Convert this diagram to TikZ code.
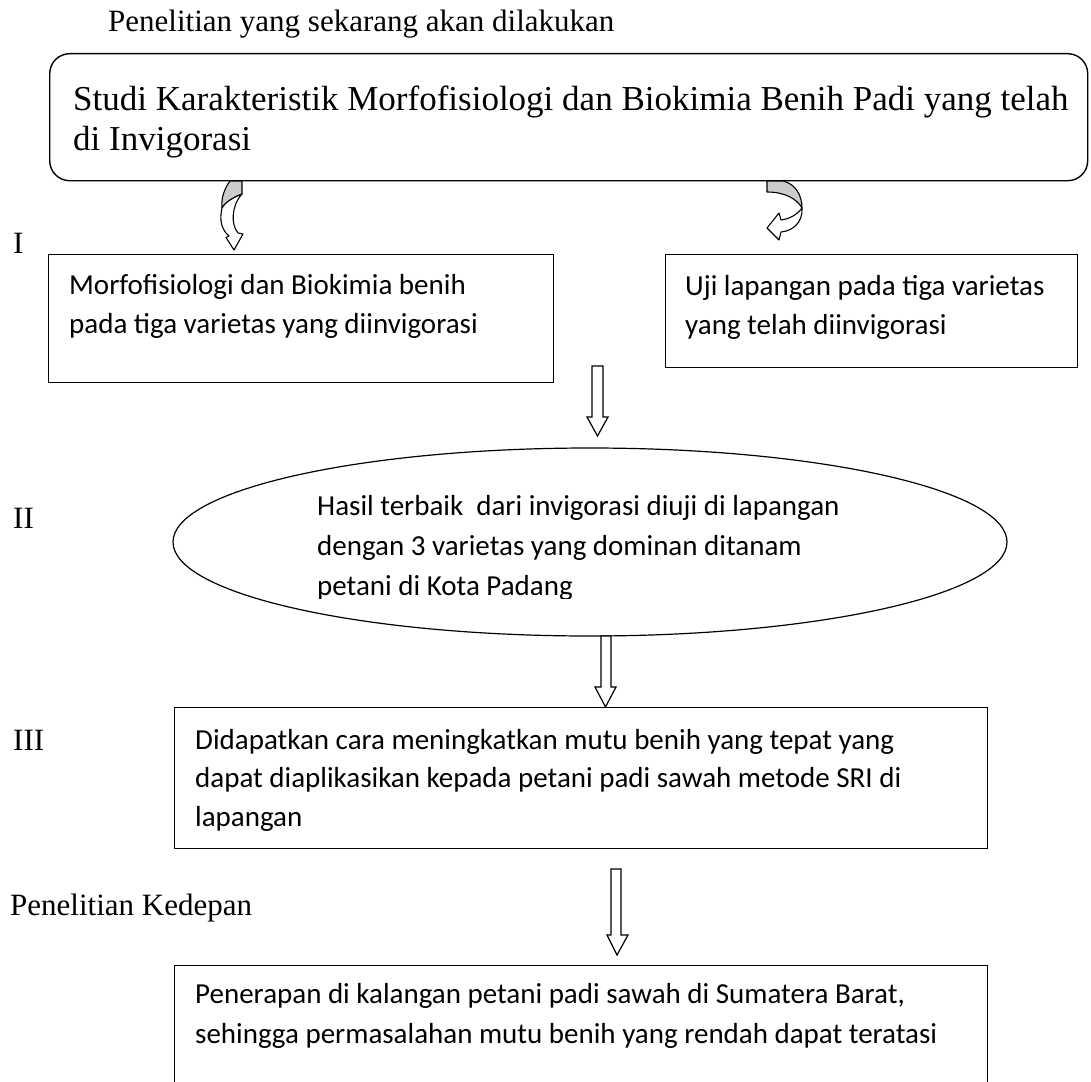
\documentclass[tikz,border=0pt]{standalone}
\usepackage{fontspec}
\setmainfont{Liberation Serif}
\newfontfamily\calfont{Carlito}
\usetikzlibrary{shapes.geometric}
\definecolor{foldgrey}{HTML}{CCCCCC}
\begin{document}
\begin{tikzpicture}[x=1pt,y=-1pt,
  boxstyle/.style={draw=black, line width=1.4pt, rectangle, inner sep=0pt, anchor=north west},
  lab/.style={inner sep=0pt, anchor=base west, font=\fontsize{31}{31}\selectfont},
  ttl/.style={inner sep=0pt, anchor=base west, font=\fontsize{35}{35}\selectfont},
  bodytxt/.style={inner sep=0pt, anchor=base west, font=\calfont\fontsize{29}{29}\selectfont},
  blk/.style={draw=black, fill=white, line width=1.2pt, line join=miter},
  curl/.style={draw=black, line width=1.1pt, line join=round}]
\clip (0,0) rectangle (1091,1081);
\fill[white] (0,0) rectangle (1091,1081);

% heading
\node[lab] (head) at (108,32) {Penelitian yang sekarang akan dilakukan};

% title box
\node[boxstyle, rounded corners=20pt, minimum width=1038pt, minimum height=127pt] (tb) at (49,53) {};
\node[ttl] (tl1) at (73,110) {Studi Karakteristik Morfofisiologi dan Biokimia Benih Padi yang telah};
\node[ttl] (tl2) at (73,150) {di Invigorasi};

% roman labels
\node[lab] (r1) at (13,253) {I};
\node[lab] (r2) at (13,528) {II};
\node[lab] (r3) at (13,750) {III};
\node[lab] (fut) at (10,915) {Penelitian Kedepan};

% box 1
\node[boxstyle, minimum width=505pt, minimum height=128pt] (b1) at (48,254) {};
\node[bodytxt] (b1l1) at (69,294) {Morfofisiologi dan Biokimia benih};
\node[bodytxt] (b1l2) at (69,333) {pada tiga varietas yang diinvigorasi};

% box 2
\node[boxstyle, minimum width=412pt, minimum height=113pt] (b2) at (665,254) {};
\node[bodytxt] (b2l1) at (685,295) {Uji lapangan pada tiga varietas};
\node[bodytxt] (b2l2) at (685,334) {yang telah diinvigorasi};

% curved arrows (left)
\path[curl, fill=foldgrey] (230,181) -- (242,181) -- (242,194)
   .. controls (235,197) and (226,201) .. (222,208)
   .. controls (221,199) and (224,189) .. (230,181) -- cycle;
\path[curl, fill=white] (222,208) .. controls (219,221) and (222,230) .. (229,236)
   -- (226,237.5) -- (234,250) -- (243,234) -- (238,233)
   .. controls (231,225) and (231,206) .. (242,194)
   .. controls (235,197) and (226,201) .. (222,208) -- cycle;

% curved arrow (right)
\path[curl, fill=foldgrey] (767,181) -- (783,181) .. controls (796,184) and (802,196) .. (802,208)
   .. controls (797,199) and (785,192) .. (767,192) -- cycle;
\path[curl, fill=white] (802,208) .. controls (803,222) and (793,231) .. (781,232)
   -- (779,240) -- (767,228) -- (779,213) -- (781,220)
   .. controls (789,219) and (797,215) .. (802,208) -- cycle;

% block arrow A
\draw[blk] (592,366) -- (603,366) -- (603,417) -- (608,417) -- (597.5,436) -- (587,417) -- (592,417) -- cycle;

% ellipse
\node[draw=black, line width=1.2pt, ellipse, inner sep=0pt, minimum width=834pt, minimum height=188pt] (ell) at (590,542) {};
\begin{scope}
\clip (180,440) rectangle (1000,598);
\node[bodytxt] (el1) at (317,515) {Hasil terbaik\ \ dari invigorasi diuji di lapangan};
\node[bodytxt] (el2) at (317,555) {dengan 3 varietas yang dominan ditanam};
\node[bodytxt] (el3) at (317,595) {petani di Kota Padang};
\end{scope}

% block arrow B
\draw[blk] (601,636) -- (611,636) -- (611,687) -- (616,687) -- (605.5,707) -- (595,687) -- (601,687) -- cycle;

% box III
\node[boxstyle, minimum width=813pt, minimum height=141pt] (b3) at (174,707) {};
\node[bodytxt] (b3l1) at (195,749) {Didapatkan cara meningkatkan mutu benih yang tepat yang};
\node[bodytxt] (b3l2) at (195,787) {dapat diaplikasikan kepada petani padi sawah metode SRI di};
\node[bodytxt] (b3l3) at (195,826) {lapangan};

% block arrow C
\draw[blk] (611,869) -- (621,869) -- (621,935) -- (628,935) -- (617,955) -- (607,935) -- (611,935) -- cycle;

% box IV (runs off the bottom)
\node[boxstyle, minimum width=813pt, minimum height=160pt] (b4) at (174,965) {};
\node[bodytxt] (b4l1) at (195,1003) {Penerapan di kalangan petani padi sawah di Sumatera Barat,};
\node[bodytxt] (b4l2) at (195,1043) {sehingga permasalahan mutu benih yang rendah dapat teratasi};
\end{tikzpicture}
\end{document}
